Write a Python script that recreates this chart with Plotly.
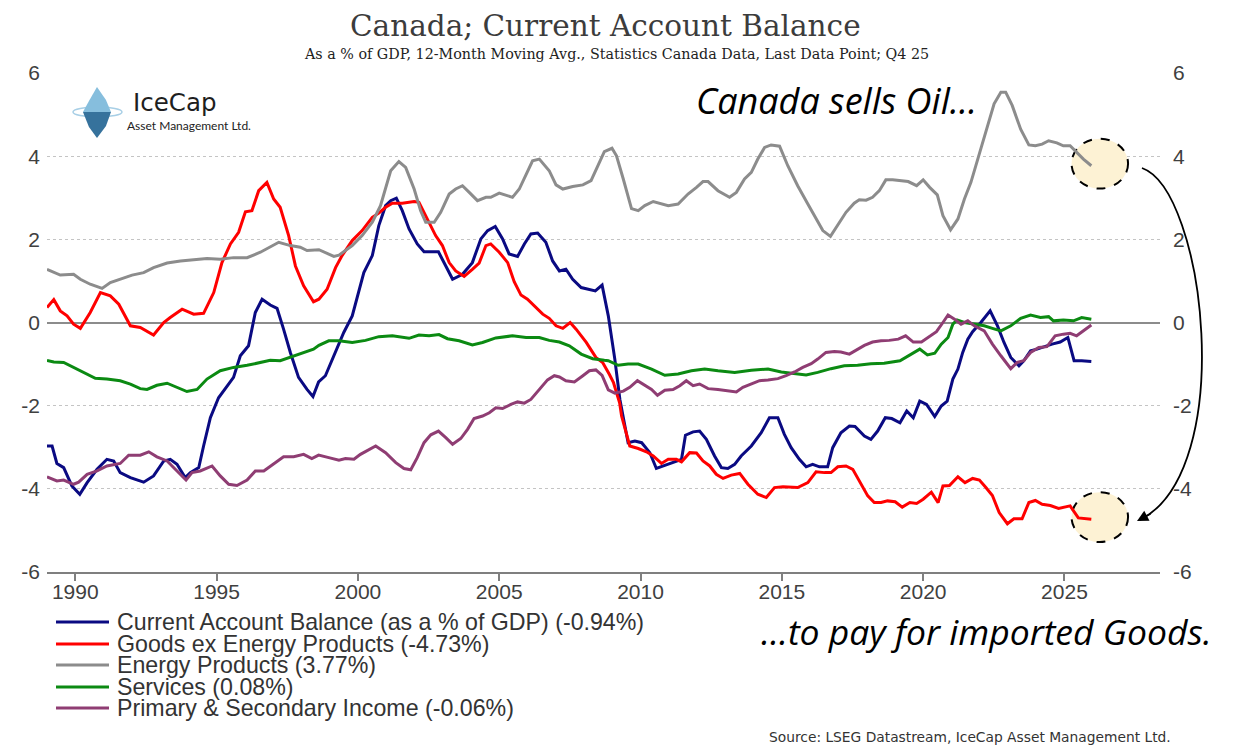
import plotly.graph_objects as go

# --- values: decimal year / % of GDP ---
ca_x = [1989.00, 1989.18, 1989.35, 1989.59, 1989.88, 1990.16, 1990.42, 1990.77, 1991.12, 1991.36,
        1991.59, 1991.95, 1992.42, 1992.77, 1993.13, 1993.36, 1993.60, 1993.89, 1994.07, 1994.37,
        1994.54, 1994.78, 1995.07, 1995.37, 1995.60, 1995.84, 1996.13, 1996.37, 1996.61, 1996.90,
        1997.14, 1997.37, 1997.61, 1997.90, 1998.20, 1998.41, 1998.61, 1998.85, 1999.15, 1999.50,
        1999.80, 1999.98, 2000.21, 2000.51, 2000.74, 2000.98, 2001.16, 2001.36, 2001.57, 2001.81,
        2002.10, 2002.34, 2002.64, 2002.85, 2003.11, 2003.35, 2003.70, 2004.05, 2004.35, 2004.59,
        2004.86, 2005.12, 2005.35, 2005.65, 2005.89, 2006.12, 2006.36, 2006.65, 2006.89, 2007.13,
        2007.36, 2007.60, 2007.90, 2008.13, 2008.40, 2008.64, 2008.86, 2009.09, 2009.27, 2009.56,
        2009.80, 2010.04, 2010.33, 2010.56, 2010.86, 2011.21, 2011.45, 2011.59, 2011.86, 2012.09,
        2012.33, 2012.62, 2012.86, 2013.09, 2013.33, 2013.56, 2013.92, 2014.27, 2014.56, 2014.86,
        2015.09, 2015.33, 2015.62, 2015.86, 2016.09, 2016.33, 2016.62, 2016.80, 2017.09, 2017.39,
        2017.59, 2017.92, 2018.15, 2018.39, 2018.66, 2018.89, 2019.18, 2019.42, 2019.65, 2019.88,
        2020.12, 2020.41, 2020.64, 2020.85, 2021.05, 2021.23, 2021.40, 2021.58, 2021.75, 2022.04,
        2022.37, 2022.63, 2022.86, 2023.10, 2023.39, 2023.56, 2023.80, 2024.03, 2024.26, 2024.56,
        2024.85, 2025.12, 2025.34, 2025.61, 2025.95]
ca_y = [-2.97, -2.97, -3.39, -3.49, -3.93, -4.13, -3.85, -3.53, -3.29, -3.33,
        -3.61, -3.73, -3.84, -3.69, -3.33, -3.29, -3.41, -3.73, -3.61, -3.49,
        -2.97, -2.29, -1.81, -1.52, -1.32, -0.80, -0.56, 0.24, 0.56, 0.42,
        0.34, -0.16, -0.72, -1.32, -1.61, -1.78, -1.43, -1.28, -0.80, -0.24,
        0.16, 0.64, 1.20, 1.61, 2.33, 2.81, 2.93, 2.99, 2.69, 2.25,
        1.89, 1.70, 1.69, 1.70, 1.36, 1.04, 1.16, 1.44, 2.01, 2.21,
        2.31, 2.01, 1.65, 1.59, 1.89, 2.13, 2.15, 1.93, 1.48, 1.24,
        1.28, 1.04, 0.84, 0.80, 0.76, 0.90, 0.16, -0.88, -1.85, -2.89,
        -2.85, -2.89, -3.13, -3.51, -3.43, -3.35, -3.29, -2.71, -2.63, -2.61,
        -2.81, -3.21, -3.49, -3.51, -3.41, -3.21, -2.97, -2.65, -2.29, -2.29,
        -2.69, -3.01, -3.29, -3.47, -3.41, -3.47, -3.47, -3.01, -2.65, -2.49,
        -2.50, -2.73, -2.81, -2.61, -2.29, -2.31, -2.41, -2.13, -2.29, -1.89,
        -1.97, -2.26, -2.01, -1.89, -1.36, -1.12, -0.72, -0.40, -0.22, 0.00,
        0.28, -0.08, -0.48, -0.84, -1.04, -0.92, -0.68, -0.64, -0.58, -0.52,
        -0.47, -0.36, -0.92, -0.92, -0.94]

goods_x = [1989.00, 1989.24, 1989.47, 1989.71, 1989.94, 1990.18, 1990.53, 1990.89, 1991.24, 1991.54,
           1991.95, 1992.30, 1992.77, 1993.13, 1993.36, 1993.78, 1994.19, 1994.54, 1994.90, 1995.19,
           1995.49, 1995.78, 1996.02, 1996.25, 1996.49, 1996.78, 1997.02, 1997.25, 1997.55, 1997.79,
           1998.08, 1998.43, 1998.62, 1998.91, 1999.21, 1999.44, 1999.80, 2000.15, 2000.51, 2000.74,
           2000.98, 2001.22, 2001.57, 2001.99, 2002.16, 2002.46, 2002.75, 2002.99, 2003.23, 2003.46,
           2003.76, 2004.05, 2004.29, 2004.53, 2004.70, 2005.00, 2005.30, 2005.53, 2005.77, 2006.00,
           2006.24, 2006.54, 2006.77, 2007.01, 2007.25, 2007.51, 2007.72, 2008.08, 2008.42, 2008.66,
           2008.90, 2009.04, 2009.26, 2009.33, 2009.62, 2009.92, 2010.21, 2010.45, 2010.74, 2010.98,
           2011.27, 2011.45, 2011.74, 2011.98, 2012.21, 2012.45, 2012.68, 2012.92, 2013.21, 2013.51,
           2013.80, 2014.15, 2014.45, 2014.74, 2015.04, 2015.33, 2015.56, 2015.92, 2016.21, 2016.51,
           2016.74, 2016.98, 2017.27, 2017.51, 2017.80, 2018.04, 2018.27, 2018.51, 2018.74, 2019.01,
           2019.26, 2019.53, 2019.77, 2020.00, 2020.29, 2020.53, 2020.70, 2020.93, 2021.23, 2021.48,
           2021.75, 2021.99, 2022.22, 2022.45, 2022.69, 2022.98, 2023.21, 2023.50, 2023.74, 2023.97,
           2024.21, 2024.50, 2024.79, 2025.20, 2025.49, 2025.72, 2025.95]
goods_y = [0.36, 0.55, 0.28, 0.16, -0.04, -0.14, 0.24, 0.72, 0.64, 0.44,
           -0.08, -0.12, -0.30, 0.00, 0.12, 0.32, 0.20, 0.22, 0.72, 1.44,
           1.89, 2.17, 2.66, 2.69, 3.17, 3.37, 2.97, 2.77, 2.09, 1.36,
           0.88, 0.50, 0.56, 0.80, 1.32, 1.61, 1.97, 2.21, 2.53, 2.63,
           2.77, 2.87, 2.87, 2.91, 2.89, 2.49, 2.09, 1.85, 1.44, 1.24,
           1.11, 1.28, 1.43, 1.85, 1.89, 1.69, 1.44, 0.98, 0.66, 0.56,
           0.40, 0.20, 0.10, -0.08, -0.14, 0.00, -0.16, -0.48, -0.84, -0.96,
           -1.25, -1.44, -1.93, -2.25, -2.97, -3.03, -3.11, -3.21, -3.39, -3.29,
           -3.29, -3.35, -3.13, -3.14, -3.33, -3.45, -3.65, -3.75, -3.67, -3.63,
           -3.89, -4.13, -4.21, -3.97, -3.95, -3.96, -3.97, -3.85, -3.59, -3.61,
           -3.61, -3.47, -3.45, -3.53, -3.89, -4.17, -4.33, -4.33, -4.29, -4.31,
           -4.44, -4.33, -4.35, -4.25, -4.08, -4.33, -3.93, -3.92, -3.71, -3.85,
           -3.75, -3.79, -3.97, -4.16, -4.57, -4.84, -4.72, -4.72, -4.33, -4.28,
           -4.37, -4.40, -4.47, -4.41, -4.70, -4.71, -4.73]

energy_x = [1989.00, 1989.47, 1989.94, 1990.18, 1990.53, 1990.95, 1991.24, 1991.59, 1992.01, 1992.42,
            1992.77, 1993.25, 1993.72, 1994.19, 1994.66, 1995.13, 1995.60, 1996.08, 1996.55, 1997.20,
            1997.61, 1997.96, 1998.20, 1998.62, 1999.15, 1999.33, 1999.80, 2000.15, 2000.51, 2000.80,
            2001.16, 2001.45, 2001.69, 2001.99, 2002.22, 2002.40, 2002.70, 2002.93, 2003.23, 2003.46,
            2003.70, 2003.94, 2004.23, 2004.53, 2004.70, 2005.00, 2005.47, 2005.71, 2006.18, 2006.42,
            2006.77, 2007.01, 2007.25, 2007.60, 2007.96, 2008.25, 2008.48, 2008.72, 2008.99, 2009.15,
            2009.39, 2009.68, 2009.92, 2010.15, 2010.45, 2010.74, 2010.98, 2011.33, 2011.68, 2011.98,
            2012.21, 2012.39, 2012.74, 2013.15, 2013.39, 2013.68, 2013.92, 2014.15, 2014.39, 2014.62,
            2014.92, 2015.21, 2015.56, 2015.92, 2016.27, 2016.45, 2016.72, 2016.98, 2017.27, 2017.56,
            2017.74, 2017.98, 2018.21, 2018.45, 2018.68, 2018.92, 2019.12, 2019.47, 2019.77, 2020.00,
            2020.23, 2020.50, 2020.70, 2020.97, 2021.23, 2021.46, 2021.69, 2021.93, 2022.22, 2022.51,
            2022.75, 2022.92, 2023.15, 2023.45, 2023.74, 2023.97, 2024.21, 2024.44, 2024.73, 2024.96,
            2025.20, 2025.37, 2025.67, 2025.95]
energy_y = [1.28, 1.14, 1.16, 1.04, 0.92, 0.82, 0.96, 1.04, 1.14, 1.20,
            1.32, 1.43, 1.48, 1.51, 1.54, 1.52, 1.56, 1.56, 1.69, 1.93,
            1.85, 1.81, 1.73, 1.75, 1.59, 1.62, 1.85, 2.09, 2.41, 2.81,
            3.65, 3.87, 3.73, 3.21, 2.69, 2.41, 2.41, 2.65, 3.09, 3.21,
            3.29, 3.13, 2.93, 3.01, 3.01, 3.11, 3.01, 3.21, 3.89, 3.93,
            3.65, 3.31, 3.21, 3.27, 3.31, 3.41, 3.77, 4.11, 4.19, 4.01,
            3.45, 2.74, 2.69, 2.81, 2.91, 2.85, 2.81, 2.85, 3.09, 3.25,
            3.39, 3.39, 3.17, 3.01, 3.13, 3.45, 3.61, 3.93, 4.21, 4.27,
            4.24, 3.77, 3.29, 2.85, 2.45, 2.21, 2.07, 2.33, 2.65, 2.87,
            2.95, 2.94, 3.01, 3.17, 3.43, 3.43, 3.41, 3.39, 3.29, 3.43,
            3.25, 3.07, 2.57, 2.23, 2.49, 2.97, 3.37, 3.93, 4.57, 5.26,
            5.54, 5.54, 5.22, 4.65, 4.27, 4.25, 4.29, 4.37, 4.32, 4.25,
            4.25, 4.13, 3.93, 3.77]

services_x = [1989.00, 1989.24, 1989.59, 1989.94, 1990.30, 1990.71, 1991.12, 1991.59, 1991.95, 1992.30,
              1992.54, 1992.89, 1993.25, 1993.60, 1993.95, 1994.31, 1994.66, 1995.13, 1995.60, 1996.08,
              1996.55, 1996.90, 1997.25, 1997.73, 1998.20, 1998.43, 1998.62, 1998.97, 1999.33, 1999.80,
              2000.27, 2000.74, 2001.22, 2001.81, 2002.16, 2002.52, 2002.87, 2003.17, 2003.58, 2004.05,
              2004.41, 2004.88, 2005.47, 2005.95, 2006.42, 2006.77, 2007.13, 2007.48, 2007.90, 2008.31,
              2008.72, 2008.86, 2009.21, 2009.56, 2009.92, 2010.39, 2010.86, 2011.33, 2011.80, 2012.27,
              2012.74, 2013.33, 2013.92, 2014.51, 2014.98, 2015.45, 2015.86, 2016.27, 2016.74, 2017.21,
              2017.68, 2018.15, 2018.62, 2019.18, 2019.59, 2019.88, 2020.15, 2020.41, 2020.64, 2020.88,
              2021.05, 2021.20, 2021.46, 2021.81, 2022.16, 2022.45, 2022.75, 2023.10, 2023.45, 2023.80,
              2024.15, 2024.44, 2024.61, 2024.96, 2025.32, 2025.61, 2025.95]
services_y = [-0.91, -0.95, -0.96, -1.08, -1.20, -1.34, -1.36, -1.40, -1.48, -1.59,
              -1.61, -1.51, -1.46, -1.56, -1.66, -1.61, -1.36, -1.16, -1.08, -1.03,
              -0.96, -0.91, -0.92, -0.80, -0.70, -0.64, -0.55, -0.44, -0.44, -0.48,
              -0.43, -0.34, -0.32, -0.38, -0.30, -0.32, -0.29, -0.39, -0.44, -0.54,
              -0.48, -0.37, -0.32, -0.36, -0.36, -0.43, -0.47, -0.56, -0.76, -0.87,
              -0.91, -0.92, -1.03, -1.00, -1.00, -1.12, -1.27, -1.24, -1.16, -1.12,
              -1.16, -1.20, -1.15, -1.12, -1.19, -1.22, -1.26, -1.20, -1.11, -1.04,
              -1.03, -0.99, -0.98, -0.92, -0.76, -0.64, -0.78, -0.74, -0.52, -0.36,
              -0.04, 0.06, 0.00, -0.04, -0.08, -0.14, -0.20, -0.08, 0.10, 0.18,
              0.12, 0.14, 0.04, 0.06, 0.04, 0.12, 0.08]

income_x = [1989.00, 1989.35, 1989.59, 1989.94, 1990.12, 1990.42, 1990.77, 1991.12, 1991.59, 1991.89,
            1992.30, 1992.60, 1992.89, 1993.25, 1993.60, 1993.92, 1994.13, 1994.42, 1994.84, 1995.13,
            1995.43, 1995.72, 1996.08, 1996.37, 1996.67, 1997.02, 1997.37, 1997.73, 1998.08, 1998.37,
            1998.61, 1998.97, 1999.33, 1999.56, 1999.86, 2000.09, 2000.63, 2000.98, 2001.34, 2001.63,
            2001.87, 2002.10, 2002.34, 2002.58, 2002.85, 2003.11, 2003.35, 2003.64, 2003.88, 2004.11,
            2004.41, 2004.65, 2004.88, 2005.12, 2005.41, 2005.65, 2005.89, 2006.12, 2006.42, 2006.71,
            2006.95, 2007.13, 2007.36, 2007.66, 2007.96, 2008.19, 2008.42, 2008.64, 2008.86, 2009.09,
            2009.39, 2009.62, 2009.89, 2010.15, 2010.39, 2010.60, 2010.86, 2011.15, 2011.39, 2011.62,
            2011.86, 2012.09, 2012.39, 2012.74, 2013.09, 2013.39, 2013.62, 2013.92, 2014.21, 2014.51,
            2014.86, 2015.15, 2015.45, 2015.74, 2016.04, 2016.27, 2016.56, 2016.86, 2017.09, 2017.39,
            2017.68, 2017.92, 2018.21, 2018.51, 2018.80, 2019.12, 2019.38, 2019.65, 2019.94, 2020.18,
            2020.47, 2020.70, 2020.88, 2021.11, 2021.34, 2021.58, 2021.81, 2022.16, 2022.45, 2022.75,
            2023.10, 2023.33, 2023.56, 2023.80, 2024.09, 2024.38, 2024.67, 2024.96, 2025.20, 2025.43,
            2025.67, 2025.95]
income_y = [-3.71, -3.81, -3.79, -3.89, -3.84, -3.65, -3.57, -3.45, -3.39, -3.19,
            -3.19, -3.11, -3.23, -3.33, -3.57, -3.79, -3.61, -3.57, -3.45, -3.69,
            -3.89, -3.92, -3.79, -3.57, -3.57, -3.41, -3.23, -3.23, -3.17, -3.27,
            -3.19, -3.25, -3.31, -3.27, -3.29, -3.17, -2.97, -3.13, -3.37, -3.51,
            -3.54, -3.25, -2.89, -2.70, -2.61, -2.77, -2.93, -2.79, -2.57, -2.31,
            -2.25, -2.17, -2.05, -2.07, -1.97, -1.91, -1.94, -1.85, -1.61, -1.38,
            -1.28, -1.31, -1.40, -1.43, -1.28, -1.16, -1.14, -1.27, -1.62, -1.70,
            -1.65, -1.56, -1.40, -1.51, -1.61, -1.75, -1.63, -1.61, -1.52, -1.40,
            -1.52, -1.48, -1.59, -1.61, -1.65, -1.67, -1.56, -1.48, -1.40, -1.38,
            -1.35, -1.28, -1.19, -1.08, -0.99, -0.88, -0.72, -0.70, -0.71, -0.76,
            -0.64, -0.55, -0.47, -0.44, -0.43, -0.40, -0.32, -0.47, -0.47, -0.36,
            -0.22, 0.00, 0.18, 0.08, -0.04, 0.04, -0.08, -0.20, -0.52, -0.80,
            -1.11, -0.96, -0.92, -0.72, -0.60, -0.58, -0.32, -0.28, -0.26, -0.32,
            -0.20, -0.06]

series_names = [
    "Current Account Balance (as a % of GDP) (-0.94%)",
    "Goods ex Energy Products (-4.73%)",
    "Energy Products (3.77%)",
    "Services (0.08%)",
    "Primary & Secondary Income (-0.06%)",
]
series_colors = ["#0a0a82", "#ff0000", "#8c8c8c", "#0b8a12", "#8f3d73"]

x_ticks = [1990, 1995, 2000, 2005, 2010, 2015, 2020, 2025]
y_ticks = [-6, -4, -2, 0, 2, 4, 6]

# page geometry: the html body keeps its default 8px margin, so the figure
# is drawn 8px smaller and every page position below is shifted by OFF
OFF = 8
W, H = 1235 - OFF, 756 - OFF
L, R, T, B = 39, 75, 65, 184
PW = W - L - R
PH = H - T - B


def px(x):
    # page pixel -> paper x
    return (x - OFF - L) / PW


def py(y):
    # page pixel -> paper y
    return (H - B - (y - OFF)) / PH


def path(points):
    return "M " + " L ".join(f"{px(a):.4f},{py(b):.4f}" for a, b in points) + " Z"


fig = go.Figure()

all_x = [ca_x, goods_x, energy_x, services_x, income_x]
all_y = [ca_y, goods_y, energy_y, services_y, income_y]
for xs, ys, name, color in zip(all_x, all_y, series_names, series_colors):
    fig.add_trace(go.Scatter(x=xs, y=ys, name=name, mode="lines",
                             line=dict(color=color, width=3), showlegend=False))

# invisible trace so the right-hand axis is drawn
fig.add_trace(go.Scatter(x=[ca_x[0]], y=[0], yaxis="y2", mode="markers",
                         marker=dict(opacity=0), showlegend=False, hoverinfo="skip"))

tick_font = dict(family="Liberation Sans", size=21, color="#404040")
fig.update_layout(
    width=W, height=H,
    margin=dict(l=L, r=R, t=T, b=B),
    paper_bgcolor="white", plot_bgcolor="white",
    xaxis=dict(range=[1989.0, 2028.38], tickvals=x_ticks, ticktext=[str(v) for v in x_ticks],
               showgrid=False, zeroline=False, showline=True, linecolor="#7f7f7f", linewidth=2,
               ticks="outside", ticklen=7, tickwidth=1.5, tickcolor="#7f7f7f", tickfont=tick_font,
               ticklabelstandoff=-7),
    yaxis=dict(range=[-6, 6], tickvals=y_ticks, ticktext=[str(v) for v in y_ticks],
               showgrid=True, gridcolor="#c4c4c4", griddash="dot", gridwidth=1,
               zeroline=True, zerolinecolor="#8c8c8c", zerolinewidth=2,
               showline=False, ticks="", tickfont=tick_font, ticklabelstandoff=6),
    yaxis2=dict(range=[-6, 6], tickvals=y_ticks, ticktext=[str(v) for v in y_ticks],
                overlaying="y", side="right", showgrid=False, zeroline=False, showline=False,
                ticks="", tickfont=tick_font, ticklabelstandoff=12),
    showlegend=False,
)

# circles round the last Energy and Goods points
for xs, ys in [(energy_x, energy_y), (goods_x, goods_y)]:
    cx, cy = xs[-1] + 0.3, ys[-1] + 0.05
    fig.add_shape(type="circle", xref="x", yref="y", layer="between",
                  x0=cx - 1.0, x1=cx + 1.0, y0=cy - 0.6, y1=cy + 0.6,
                  fillcolor="#fdf2d4", line=dict(color="black", width=2, dash="dash"))

# curved arrow between the two circles
fig.add_shape(type="path", xref="paper", yref="paper", layer="above",
              path=(f"M {px(1142):.4f},{py(168):.4f} C {px(1205):.4f},{py(190):.4f} "
                    f"{px(1238):.4f},{py(470):.4f} {px(1140):.4f},{py(520):.4f}"),
              line=dict(color="black", width=1.8))
fig.add_annotation(xref="paper", yref="paper", x=px(1137), y=py(521), text="",
                   showarrow=True, arrowhead=2, arrowsize=1.4, arrowwidth=1.6,
                   arrowcolor="black", ax=15, ay=-8)

# legend drawn by hand (tight Excel-style rows)
legend_rows = [622, 644, 665, 687, 708]
for name, color, ry in zip(series_names, series_colors, legend_rows):
    fig.add_shape(type="line", xref="paper", yref="paper",
                  x0=px(56), x1=px(109), y0=py(ry), y1=py(ry),
                  line=dict(color=color, width=3))
    fig.add_annotation(xref="paper", yref="paper", x=px(116), y=py(ry), text=name,
                       showarrow=False, xanchor="left", yanchor="middle", borderpad=0,
                       font=dict(family="Liberation Sans", size=23.2, color="#333333"))

# titles
fig.add_annotation(xref="paper", yref="paper", x=px(605), y=py(OFF),
                   text="Canada; Current Account Balance", showarrow=False,
                   xanchor="center", yanchor="top", borderpad=0,
                   font=dict(family="DejaVu Serif", size=29.5, color="#3c3c3c"))
fig.add_annotation(xref="paper", yref="paper", x=px(616), y=py(54),
                   text="As a % of GDP, 12-Month Moving Avg., Statistics Canada Data, Last Data Point; Q4 25",
                   showarrow=False, xanchor="center", yanchor="middle",
                   font=dict(family="DejaVu Serif", size=14.3, color="#222222"))

# commentary
fig.add_annotation(xref="paper", yref="paper", x=px(836), y=py(101),
                   text="<i>Canada sells Oil…</i>", showarrow=False,
                   xanchor="center", yanchor="middle",
                   font=dict(family="Open Sans", size=36, color="black"))
fig.add_annotation(xref="paper", yref="paper", x=px(986), y=py(631),
                   text="<i>…to pay for imported Goods.</i>", showarrow=False,
                   xanchor="center", yanchor="middle", borderpad=0,
                   font=dict(family="Open Sans", size=35.5, color="black"))
fig.add_annotation(xref="paper", yref="paper", x=px(970), y=py(737),
                   text="Source: LSEG Datastream, IceCap Asset Management Ltd.", showarrow=False,
                   xanchor="center", yanchor="middle",
                   font=dict(family="DejaVu Sans", size=13.8, color="#333333"))

# IceCap logo
fig.add_shape(type="circle", xref="paper", yref="paper", layer="above",
              x0=px(73), x1=px(122), y0=py(117), y1=py(107),
              line=dict(color="#a8cfe6", width=1.5))
fig.add_shape(type="path", xref="paper", yref="paper", layer="above",
              path=path([(97, 87), (89, 101), (83, 112), (111, 112), (106, 100)]),
              fillcolor="#86bedd", line=dict(width=0))
fig.add_shape(type="path", xref="paper", yref="paper", layer="above",
              path=path([(83, 112), (89, 127), (97, 138), (106, 126), (111, 112)]),
              fillcolor="#36729c", line=dict(width=0))
fig.add_annotation(xref="paper", yref="paper", x=px(132), y=py(103), text="IceCap",
                   showarrow=False, xanchor="left", yanchor="middle", borderpad=0,
                   font=dict(family="DejaVu Sans", size=24.5, color="#1e1e1e"))
fig.add_annotation(xref="paper", yref="paper", x=px(126), y=py(125),
                   text="Asset Management Ltd.", showarrow=False,
                   xanchor="left", yanchor="middle", borderpad=0,
                   font=dict(family="Lato", size=12, color="#222222"))

fig.write_html("out.html")
